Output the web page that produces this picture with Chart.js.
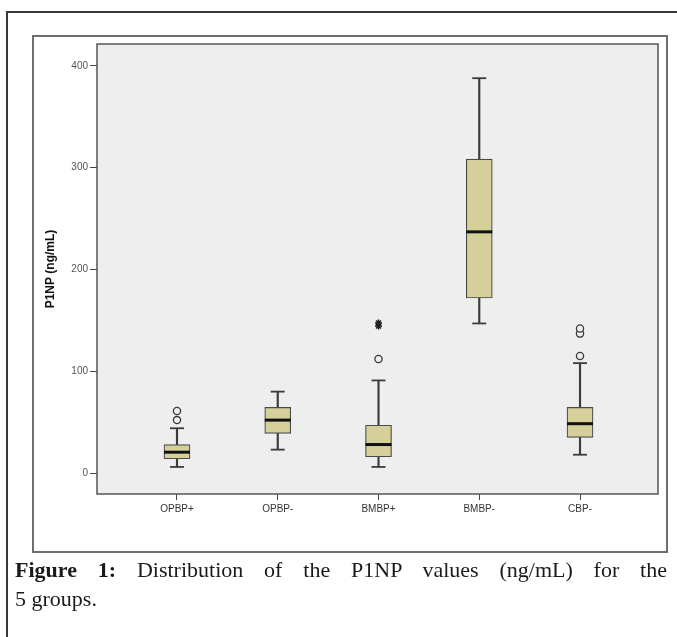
<!DOCTYPE html>
<html>
<head>
<meta charset="utf-8">
<script src="https://cdn.jsdelivr.net/npm/chart.js@4.4.1/dist/chart.umd.min.js"></script>
<style>
  html, body { margin:0; padding:0; background:#fff; }
  body { width:677px; height:637px; overflow:hidden; position:relative; }
  #outer { position:absolute; left:6px; top:11px; width:800px; height:800px; border:2px solid #3a3a3a; box-sizing:border-box; }
  #inner { position:absolute; left:32px; top:35px; width:636px; height:518px; border:2px solid #6e6e6e; box-sizing:border-box; }
  #c { position:absolute; left:0; top:0; }
  #cap { position:absolute; left:15px; top:555px; width:652px; font-family:"Liberation Serif", serif; font-size:22px; color:#1a1a1a; }
  #cap .l1 { text-align:justify; text-align-last:justify; line-height:29px; height:29px; white-space:nowrap; }
  #cap .l2 { line-height:29px; }
</style>
</head>
<body>
<div id="outer"></div>
<div id="inner"></div>
<canvas id="c" width="677" height="637"></canvas>
<div id="cap">
  <div class="l1"><b>Figure 1:</b> Distribution of the P1NP values (ng/mL) for the</div>
  <div class="l2">5 groups.</div>
</div>
<script>
// ---- data ----
const categories = ["OPBP+", "OPBP-", "BMBP+", "BMBP-", "CBP-"];
const whiskerMin = [6, 23, 6, 147, 18];
const q1 = [14, 39, 16, 172, 35];
const median = [20.5, 52, 28, 237, 48.5];
const q3 = [28, 64.5, 47, 308.5, 64.5];
const whiskerMax = [44, 80, 91, 388, 108];
const outliers = [[52, 61], [], [112], [], [115, 137, 142]];
const extremes = [[], [], [144.5, 147.5], [], []];
const yTicks = [0, 100, 200, 300, 400];

const pos = categories.map((c, i) => i + 1);

const plotBg = {
  id: 'plotBg',
  beforeDraw(chart) {
    const {ctx, chartArea: a} = chart;
    ctx.save();
    ctx.fillStyle = '#eeeeee';
    ctx.fillRect(a.left, a.top, a.right - a.left, a.bottom - a.top);
    ctx.restore();
  },
  afterDraw(chart) {
    const {ctx, chartArea: a} = chart;
    ctx.save();
    ctx.strokeStyle = '#555';
    ctx.lineWidth = 1.5;
    ctx.strokeRect(a.left, a.top, a.right - a.left, a.bottom - a.top);
    ctx.restore();
  }
};

const outlierPts = [];
outliers.forEach((arr, i) => arr.forEach(v => outlierPts.push({x: pos[i], y: v})));
const extremePts = [];
extremes.forEach((arr, i) => arr.forEach(v => extremePts.push({x: pos[i], y: v})));

new Chart(document.getElementById('c'), {
  type: 'bar',
  data: {
    datasets: [
      {
        type: 'bar', order: 5, grouped: false,
        data: pos.map((p, i) => ({x: p, y: [whiskerMin[i], whiskerMax[i]]})),
        backgroundColor: '#3c3c3c', borderWidth: 0, barThickness: 1.5
      },
      {
        type: 'bar', order: 4, grouped: false,
        data: pos.map((p, i) => ({x: p, y: [q1[i], q3[i]]})),
        backgroundColor: '#d5cf99', borderColor: '#4a4a4a', borderWidth: 1.2,
        borderSkipped: false, barThickness: 26
      },
      {
        type: 'scatter', order: 3,
        data: pos.flatMap((p, i) => [{x: p, y: whiskerMin[i]}, {x: p, y: whiskerMax[i]}]),
        pointStyle: 'line', pointRadius: 7, borderColor: '#3c3c3c', borderWidth: 1.8
      },
      {
        type: 'scatter', order: 2,
        data: pos.map((p, i) => ({x: p, y: median[i]})),
        pointStyle: 'line', pointRadius: 13, borderColor: '#111', borderWidth: 3
      },
      {
        type: 'scatter', order: 1,
        data: outlierPts,
        pointStyle: 'circle', pointRadius: 3.6, borderColor: '#3a3a3a', borderWidth: 1.3,
        backgroundColor: '#eeeeee'
      },
      {
        type: 'scatter', order: 0,
        data: extremePts,
        pointStyle: 'star', pointRadius: 3.5, borderColor: '#222', borderWidth: 1.6
      }
    ]
  },
  options: {
    responsive: false,
    animation: false,
    events: [],
    layout: { padding: { left: 0, top: 44, right: 19, bottom: 113 } },
    plugins: { legend: { display: false }, tooltip: { enabled: false } },
    scales: {
      x: {
        type: 'linear', min: 0.206, max: 5.774, offset: false,
        afterFit(s) { s.height = 30; },
        afterBuildTicks(s) { s.ticks = pos.map(v => ({value: v})); },
        grid: { drawOnChartArea: false, drawTicks: true, tickLength: 6, color: '#444', offset: false },
        border: { display: false },
        ticks: {
          callback: (v, i) => categories[i],
          color: '#333', font: { family: 'Liberation Sans, Arial', size: 10 }, padding: 3,
          maxRotation: 0, autoSkip: false
        }
      },
      y: {
        type: 'linear', min: -20.6, max: 421.6,
        afterFit(s) { s.width = 97; },
        afterBuildTicks(s) { s.ticks = yTicks.map(v => ({value: v})); },
        grid: { drawOnChartArea: false, drawTicks: true, tickLength: 7, color: '#444' },
        border: { display: false },
        ticks: {
          callback: v => String(v),
          color: '#555', font: { family: 'Liberation Sans, Arial', size: 10 }, padding: 2
        },
        title: {
          display: true, text: 'P1NP (ng/mL)', color: '#111',
          font: { family: 'Liberation Sans, Arial', size: 12, weight: 'bold' },
          padding: { top: 43, bottom: 0 }
        }
      }
    }
  },
  plugins: [plotBg]
});
</script>
</body>
</html>
